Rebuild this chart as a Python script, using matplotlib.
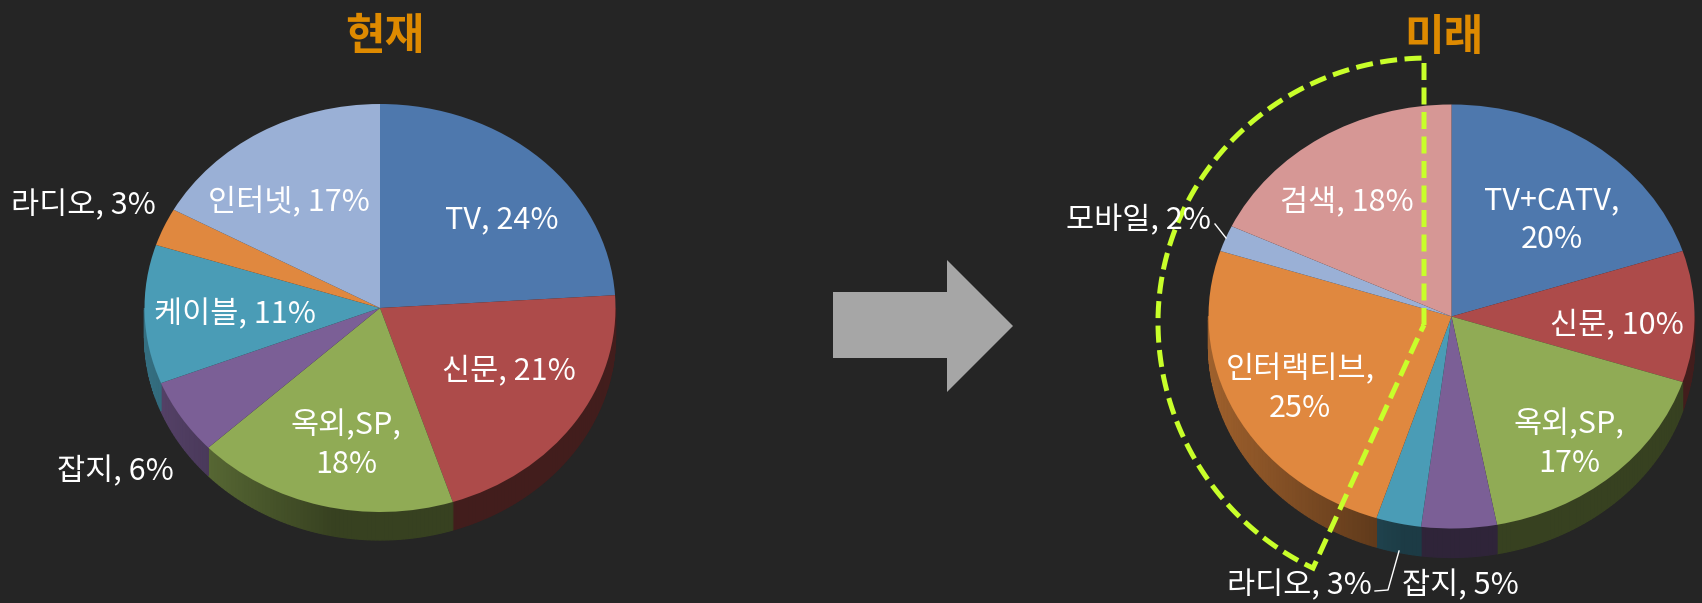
import numpy as np
import matplotlib
matplotlib.use('Agg')
import matplotlib.pyplot as plt
from matplotlib.patches import Polygon

plt.rcParams['font.family'] = ['Noto Sans CJK KR', 'DejaVu Sans']

W, H = 1702, 603
BG = '#252525'

# colours
blue = '#4E78AD'
red = '#AD4B4A'
green = '#90AB55'
purple = '#7B5F96'
teal = '#4A9CB6'
orange = '#E0883F'
lightblue = '#9AB0D6'
pink = '#D69795'

# current
now_names = ['TV', '신문', '옥외,SP', '잡지', '케이블', '라디오', '인터넷']
now_values = [24, 21, 18, 6, 11, 3, 17]
now_colors = [blue, red, green, purple, teal, orange, lightblue]
now_wrapped = ['옥외,SP']
now_label_xy = [(502, 217), (509, 368), (346, 442), (115, 469), (235, 312), (83, 203), (289, 200)]

# future
future_names = ['TV+CATV', '신문', '옥외,SP', '잡지', '라디오', '인터랙티브', '모바일', '검색']
future_values = [20, 10, 17, 5, 3, 25, 2, 18]
future_colors = [blue, red, green, purple, teal, orange, lightblue, pink]
future_wrapped = ['TV+CATV', '옥외,SP', '인터랙티브']
future_label_xy = [(1552, 217), (1617, 322), (1569, 441), (1460, 583), (1299, 583), (1300, 386), (1139, 218), (1347, 199)]


def shade(x):
    # side wall gets lighter towards the left edge
    return 0.38 + 0.33 * max(0, (-x - 0.2) / 0.8)


def draw_pie(cx, cy, rx, ry, depth, values, colors):
    # axes box in pixels, data range -1.3..1.3 so the circle becomes an ellipse
    box = [(cx - 1.3 * rx) / W, 1 - (cy + 1.3 * ry) / H, 2.6 * rx / W, 2.6 * ry / H]
    ax = fig.add_axes(box)
    ax.patch.set_alpha(0)
    wedges, _ = ax.pie(values, colors=colors, startangle=90, counterclock=False,
                       radius=1, wedgeprops={'linewidth': 0})
    for w in wedges:
        w.set_zorder(3)
    ax.set_aspect('auto')
    ax.set_xlim(-1.3, 1.3)
    ax.set_ylim(-1.3, 1.3)

    d = depth / ry
    edges = np.cumsum([0] + list(values)) / np.sum(values) * 360
    for i, col in enumerate(colors):
        a0, a1 = max(edges[i], 90), min(edges[i + 1], 270)
        if a1 <= a0:
            continue
        base = np.array(matplotlib.colors.to_rgb(col))
        steps = np.append(np.arange(a0, a1, 1.0), a1)
        for s0, s1 in zip(steps[:-1], steps[1:]):
            t0, t1 = np.radians(s0), np.radians(s1)
            xs = [np.sin(t0), np.sin(t1), np.sin(t1), np.sin(t0)]
            ys = [np.cos(t0), np.cos(t1), np.cos(t1) - d, np.cos(t0) - d]
            c = base * shade(np.sin((t0 + t1) / 2))
            ax.fill(xs, ys, facecolor=c, edgecolor=c, linewidth=0.9, zorder=2)
    return ax


fig = plt.figure(figsize=(W / 100, H / 100), dpi=100, facecolor=BG)

draw_pie(380, 308, 235.5, 204, 28, now_values, now_colors)
draw_pie(1451.5, 316.5, 243, 212, 29, future_values, future_colors)

# overlay in pixel coordinates for texts and shapes
over = fig.add_axes([0, 0, 1, 1], zorder=5)
over.set_xlim(0, W)
over.set_ylim(H, 0)
over.axis('off')
over.patch.set_alpha(0)

over.text(385, 36, '현재', color='#DE8A00', fontsize=31, fontweight='bold', ha='center', va='center')
over.text(1444, 37, '미래', color='#DE8A00', fontsize=31, fontweight='bold', ha='center', va='center')

# arrow
over.add_patch(Polygon([(833, 292), (947, 292), (947, 260), (1013, 326), (947, 392), (947, 358), (833, 358)],
                       closed=True, facecolor='#A6A6A6', edgecolor='none'))

# dashed outline around the new media slices
a_cx, a_cy, a_rx = 1428, 322, 270
t_up = np.radians(np.linspace(1, 90, 60))
t_low = np.radians(np.linspace(0, 64.8, 50))
path_x = [1424, 1424] + list(a_cx - a_rx * np.sin(t_up)) + list(a_cx - a_rx * np.cos(t_low)) + [1420, 1424]
path_y = [325, 58] + list(a_cy - 264 * np.cos(t_up)) + list(a_cy + 272 * np.sin(t_low)) + [333, 325]
over.plot(path_x, path_y, color='#C8FF2A', linewidth=3.6, linestyle=(0, (3.4, 1.5)),
          dash_capstyle='butt', dash_joinstyle='miter', zorder=2)

# leader lines
over.plot([1215, 1226], [224, 238], color='white', linewidth=1.0, zorder=3)
over.plot([1399, 1388, 1375], [551, 590, 591], color='white', linewidth=1.0, zorder=3)


def add_labels(names, values, wrapped, label_xy):
    for name, val, (x, y) in zip(names, values, label_xy):
        sep = ',\n' if name in wrapped else ', '
        over.text(x, y + 3, f'{name}{sep}{val}%', color='white', fontsize=22, ha='center', va='center',
                  linespacing=1.3, zorder=4)


add_labels(now_names, now_values, now_wrapped, now_label_xy)
add_labels(future_names, future_values, future_wrapped, future_label_xy)

fig.savefig('out.png', dpi=100, facecolor=BG)
